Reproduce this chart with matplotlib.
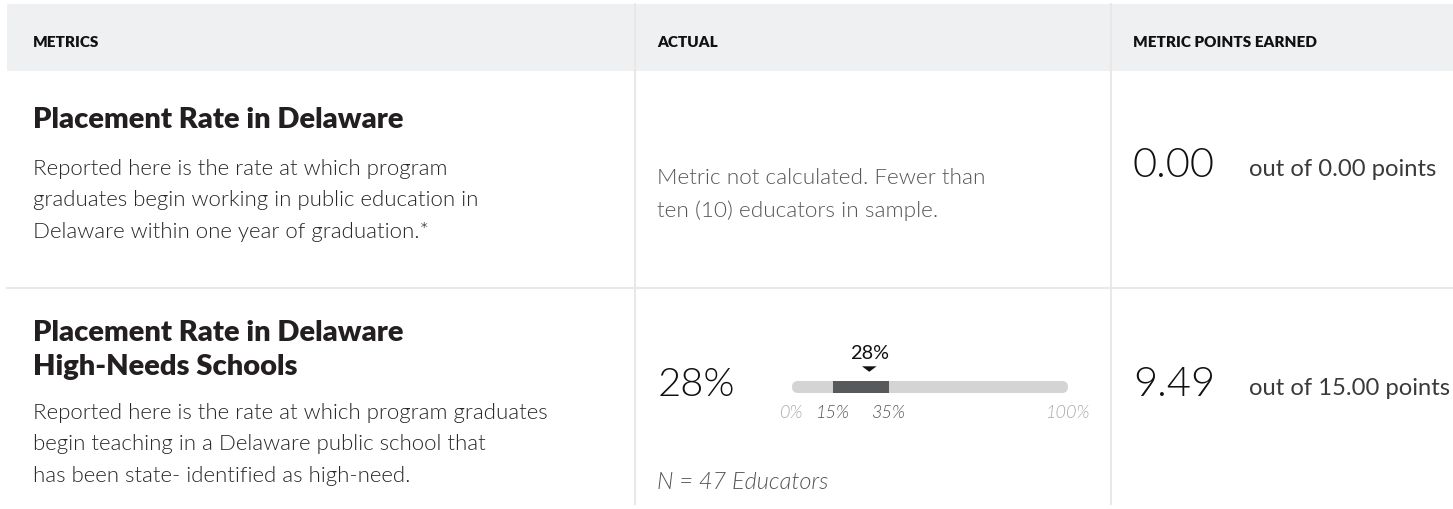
import matplotlib
matplotlib.use("Agg")
import os
import matplotlib.pyplot as plt
from matplotlib import font_manager as fm
from matplotlib.patches import Rectangle, FancyBboxPatch, Polygon

# ---------------- data ----------------
columns = ["METRICS", "ACTUAL", "METRIC POINTS EARNED"]
metric_titles = [["Placement Rate in Delaware"],
                 ["Placement Rate in Delaware", "High-Needs Schools"]]
metric_descriptions = [
    ["Reported here is the rate at which program",
     "graduates begin working in public education in",
     "Delaware within one year of graduation.*"],
    ["Reported here is the rate at which program graduates",
     "begin teaching in a Delaware public school that",
     "has been state- identified as high-need."],
]
not_calculated_text = ["Metric not calculated. Fewer than",
                       "ten (10) educators in sample."]
actual_value = 28          # percent, row 2
range_low = 15
range_high = 35
scale_ticks = [0, 15, 35, 100]
n_educators = 47
points_earned = [0.00, 9.49]
points_possible = [0.00, 15.00]

# ---------------- fonts ----------------
_files = {os.path.basename(p).lower(): p for p in fm.findSystemFonts()}


def fp(fname, weight="normal", style="normal", size=12):
    p = _files.get(fname.lower())
    if p:
        return fm.FontProperties(fname=p, size=size)
    return fm.FontProperties(family="Lato", weight=weight, style=style, size=size)


# ---------------- figure ----------------
W, H = 1453, 510
fig = plt.figure(figsize=(W / 100, H / 100), dpi=100)
ax = fig.add_axes([0, 0, 1, 1])
ax.set_xlim(0, W)
ax.set_ylim(H, 0)
ax.axis("off")

DARK = "#231f20"
BODY = "#262626"
GRAY = "#555555"
LINE = "#e8e8e8"

# header band
ax.add_patch(Rectangle((7, 5), W - 7, 67, facecolor="#eff0f2", edgecolor="none", zorder=0))
col_x = [33, 657, 1133]
for cx, label in zip(col_x, columns):
    ax.text(cx, 47, label, fontproperties=fp("Lato-Black.ttf", "black", size=11),
            color="#111111", va="baseline", ha="left")

# dividers
for dx in [635, 1111]:
    ax.plot([dx, dx], [5, 505], color=LINE, lw=1.5, zorder=1)
ax.plot([7, W], [289, 289], color=LINE, lw=1.5, zorder=1)

# row titles and descriptions
title_base = [128, 341]
desc_base = [175, 419]
for i in range(2):
    for j, line in enumerate(metric_titles[i]):
        ax.text(33, title_base[i] + j * 34, line,
                fontproperties=fp("Lato-Black.ttf", "black", size=21),
                color=DARK, va="baseline", ha="left")
    for j, line in enumerate(metric_descriptions[i]):
        ax.text(33, desc_base[i] + j * 31.3, line,
                fontproperties=fp("Lato-Light.ttf", "light", size=16),
                color=BODY, va="baseline", ha="left")

# row 1: actual column text
for j, line in enumerate(not_calculated_text):
    ax.text(657, 184 + j * 33, line,
            fontproperties=fp("Lato-Light.ttf", "light", size=16.2),
            color=GRAY, va="baseline", ha="left")

# row 2: actual value
ax.text(658, 396, f"{actual_value}%",
        fontproperties=fp("Lato-Light.ttf", "light", size=28.8),
        color="#111111", va="baseline", ha="left")

# bar (inset axes in percent)
bx0, bx1 = 792, 1068
by0, by1 = 340, 425
bax = fig.add_axes([bx0 / W, 1 - by1 / H, (bx1 - bx0) / W, (by1 - by0) / H])
bax.set_xlim(0, 100)
bax.set_ylim(by1, by0)
bax.axis("off")
px_per_unit = (bx1 - bx0) / 100.0
bar_top, bar_h = 382, 12
r_units = (bar_h / 2) / px_per_unit
bg = FancyBboxPatch((0, bar_top), 100, bar_h,
                    boxstyle=f"round,pad=0,rounding_size={r_units}",
                    mutation_aspect=px_per_unit,
                    facecolor="#d4d4d4", edgecolor="none")
bax.add_patch(bg)
bax.add_patch(Rectangle((range_low, bar_top), range_high - range_low, bar_h,
                        facecolor="#58595b", edgecolor="none"))
tw = 7.3 / px_per_unit
bax.add_patch(Polygon([[actual_value - tw, 367.3], [actual_value + tw, 367.3],
                       [actual_value, 372.8]], closed=True,
                      facecolor="#111111", edgecolor="none"))
bax.text(actual_value, 359, f"{actual_value}%",
         fontproperties=fp("Lato-Regular.ttf", "normal", size=14.3),
         color="#111111", ha="center", va="baseline")
tick_colors = ["#aaaaaa", GRAY, GRAY, "#aaaaaa"]
for t, c in zip(scale_ticks, tick_colors):
    bax.text(t, 418, f"{t}%",
             fontproperties=fp("Lato-LightItalic.ttf", "light", "italic", size=13),
             color=c, ha="center", va="baseline", clip_on=False)

ax.text(657, 489, f"N = {n_educators} Educators",
        fontproperties=fp("Lato-LightItalic.ttf", "light", "italic", size=16.9),
        color=GRAY, va="baseline", ha="left")

# points column
pts_base = [177, 396]
for i in range(2):
    ax.text(1133, pts_base[i], f"{points_earned[i]:.2f}",
            fontproperties=fp("Lato-Light.ttf", "light", size=30),
            color="#111111", va="baseline", ha="left")
    ax.text(1249, pts_base[i] - 1, f"out of {points_possible[i]:.2f} points",
            fontproperties=fp("Lato-Regular.ttf", "normal", size=17.1),
            color="#3a3a3a", va="baseline", ha="left")

fig.savefig("out.png", dpi=100, facecolor="white")
